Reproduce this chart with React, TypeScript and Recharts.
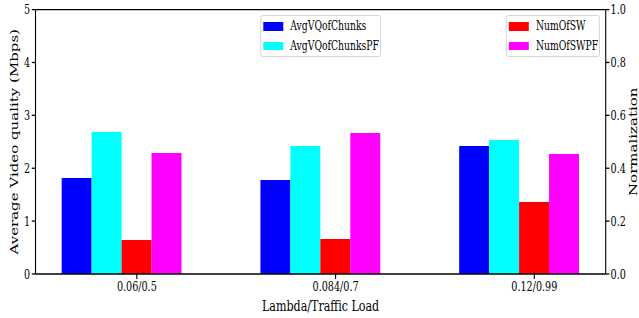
import React from 'react';
import { BarChart, Bar, XAxis, YAxis, Legend, ReferenceLine, Label } from 'recharts';

// ---- data ----
const categories = ['0.06/0.5', '0.084/0.7', '0.12/0.99'];
const avgVQofChunks = [1.815, 1.778, 2.42];
const avgVQofChunksPF = [2.685, 2.42, 2.534];
const numOfSW = [0.129, 0.132, 0.272];
const numOfSWPF = [0.458, 0.533, 0.454];
const leftTicks = [0, 1, 2, 3, 4, 5];
const rightTicks = [0, 0.2, 0.4, 0.6, 0.8, 1.0];
const seriesNames = ['AvgVQofChunks', 'AvgVQofChunksPF', 'NumOfSW', 'NumOfSWPF'];
const seriesColors = ['#0000ff', '#00ffff', '#ff0000', '#ff00ff'];

const data = categories.map((c, i) => ({
  name: c,
  AvgVQofChunks: avgVQofChunks[i],
  AvgVQofChunksPF: avgVQofChunksPF[i],
  NumOfSW: numOfSW[i],
  NumOfSWPF: numOfSWPF[i],
}));

// ---- layout / style ----
const W = 864;
const H = 318;
const SX = 639 / W; // figure is squeezed horizontally
const FONT = '"DejaVu Serif", serif';
const BAR = 40.5;
const INK = '#000';

const XTick = (props: any) => {
  const { x, y, payload } = props;
  const cx = x + BAR / 2;
  return (
    <g>
      <line x1={cx} x2={cx} y1={y} y2={y + 5} stroke={INK} strokeWidth={1.5} />
      <text x={cx} y={y + 16.7} textAnchor="middle" fontSize={13} fontFamily={FONT} fill={INK}>
        {payload.value}
      </text>
    </g>
  );
};

const LeftLabel = (props: any) => {
  const vb = props.viewBox || { x: 0, y: 9.6, width: 48, height: 264.4 };
  const bx = vb.x + 24.7;
  const cy = vb.y + vb.height / 2;
  return (
    <text transform={`translate(${bx},${cy}) rotate(-90)`} textAnchor="middle" fontSize={15} fontFamily={FONT} fill={INK}>
      Average Video quality (Mbps)
    </text>
  );
};

const RightLabel = (props: any) => {
  const vb = props.viewBox || { x: 819, y: 9.6, width: 45, height: 264.4 };
  const bx = vb.x + 42.8;
  const cy = vb.y + vb.height / 2;
  return (
    <text transform={`translate(${bx},${cy}) rotate(-90)`} textAnchor="middle" fontSize={15} fontFamily={FONT} fill={INK}>
      Normalization
    </text>
  );
};

const BottomLabel = (props: any) => {
  const vb = props.viewBox || { x: 48, y: 274, width: 771, height: 44 };
  return (
    <text x={vb.x + vb.width / 2} y={vb.y + 37} textAnchor="middle" fontSize={15} fontFamily={FONT} fill={INK}>
      Lambda/Traffic Load
    </text>
  );
};

const legendBoxes = [
  { left: 351.5, width: 163.5 },
  { left: 683.7, width: 127 },
];

const LegendContent = (props: any) => {
  const items: any[] = props.payload || [];
  const groups = [items.slice(0, 2), items.slice(2, 4)];
  return (
    <div style={{ position: 'relative', width: W, height: 0 }}>
      {groups.map((g, gi) => (
        <div
          key={gi}
          style={{
            position: 'absolute',
            left: legendBoxes[gi].left,
            top: 15,
            width: legendBoxes[gi].width,
            height: 41.7,
            boxSizing: 'border-box',
            border: '1px solid #d0d0d0',
            borderRadius: 3,
            background: 'rgba(255,255,255,0.8)',
          }}
        >
          {g.map((it: any, i: number) => (
            <div
              key={i}
              style={{
                position: 'absolute',
                left: 3.5,
                top: 10.25 + i * 19.5 - 8,
                height: 16,
                display: 'flex',
                alignItems: 'center',
                whiteSpace: 'nowrap',
              }}
            >
              <div style={{ width: 27, height: 8.5, background: it.color }} />
              <span style={{ marginLeft: 9.5, fontSize: 12.5, lineHeight: '16px', fontFamily: FONT, color: INK }}>
                {it.value}
              </span>
            </div>
          ))}
        </div>
      ))}
    </div>
  );
};

export default function App() {
  return (
    <div
      style={{
        position: 'absolute',
        left: 0,
        top: 0,
        width: W,
        height: H,
        transform: `scaleX(${SX})`,
        transformOrigin: '0 0',
        background: '#fff',
      }}
    >
      <BarChart
        width={W}
        height={H}
        data={data}
        margin={{ top: 9.6, right: 0, bottom: 0, left: 0 }}
        barGap={0}
      >
        <XAxis
          dataKey="name"
          type="category"
          padding={{ left: -17.6, right: -17.6 }}
          height={44}
          tickSize={0}
          tickMargin={0}
          tickLine={false}
          tick={<XTick />}
          interval={0}
          axisLine={{ stroke: INK, strokeWidth: 1.3 }}
        >
          <Label content={<BottomLabel />} />
        </XAxis>
        <YAxis
          yAxisId="left"
          domain={[0, 5]}
          ticks={leftTicks}
          interval={0}
          width={48}
          tickSize={5}
          tickMargin={2.4}
          axisLine={{ stroke: INK, strokeWidth: 1.5 }}
          tickLine={{ stroke: INK, strokeWidth: 1.3 }}
          tick={{ fill: INK, fontSize: 13, fontFamily: FONT }}
        >
          <Label content={<LeftLabel />} />
        </YAxis>
        <YAxis
          yAxisId="right"
          orientation="right"
          domain={[0, 1]}
          ticks={rightTicks}
          interval={0}
          width={45}
          tickSize={5}
          tickMargin={1.5}
          tickFormatter={(v: number) => v.toFixed(1)}
          axisLine={{ stroke: INK, strokeWidth: 1.5 }}
          tickLine={{ stroke: INK, strokeWidth: 1.3 }}
          tick={{ fill: INK, fontSize: 13, fontFamily: FONT }}
        >
          <Label content={<RightLabel />} />
        </YAxis>
        <ReferenceLine yAxisId="left" y={5} stroke={INK} strokeWidth={1.3} />
        <Bar yAxisId="left" dataKey={seriesNames[0]} name={seriesNames[0]} fill={seriesColors[0]} barSize={BAR} isAnimationActive={false} />
        <Bar yAxisId="left" dataKey={seriesNames[1]} name={seriesNames[1]} fill={seriesColors[1]} barSize={BAR} isAnimationActive={false} />
        <Bar yAxisId="right" dataKey={seriesNames[2]} name={seriesNames[2]} fill={seriesColors[2]} barSize={BAR} isAnimationActive={false} />
        <Bar yAxisId="right" dataKey={seriesNames[3]} name={seriesNames[3]} fill={seriesColors[3]} barSize={BAR} isAnimationActive={false} />
        <Legend
          layout="horizontal"
          verticalAlign="middle"
          align="center"
          wrapperStyle={{ left: 0, top: 0, width: W, height: 0 }}
          content={<LegendContent />}
        />
      </BarChart>
    </div>
  );
}
